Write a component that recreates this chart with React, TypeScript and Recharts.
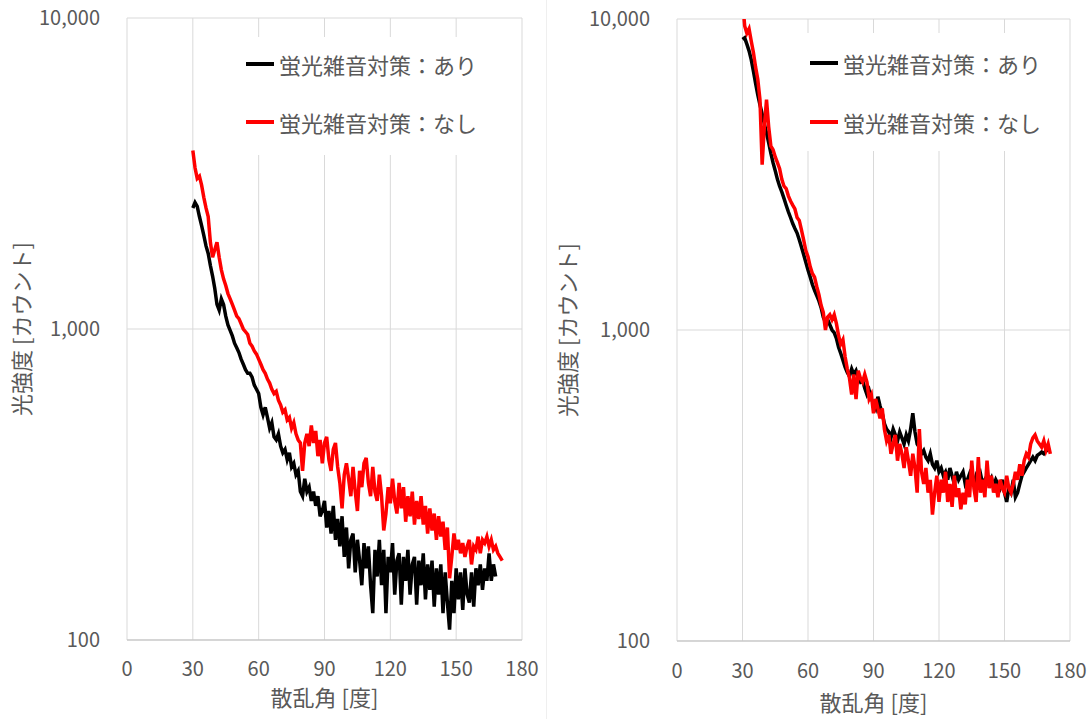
import { LineChart, Line, XAxis, YAxis, CartesianGrid, Legend } from 'recharts';

// scattering angle [deg]
const angles = [
  30, 31, 32, 33, 34, 35, 36, 37, 38, 39,
  40, 41, 42, 43, 44, 45, 46, 47, 48, 49,
  50, 51, 52, 53, 54, 55, 56, 57, 58, 59,
  60, 61, 62, 63, 64, 65, 66, 67, 68, 69,
  70, 71, 72, 73, 74, 75, 76, 77, 78, 79,
  80, 81, 82, 83, 84, 85, 86, 87, 88, 89,
  90, 91, 92, 93, 94, 95, 96, 97, 98, 99,
  100, 101, 102, 103, 104, 105, 106, 107, 108, 109,
  110, 111, 112, 113, 114, 115, 116, 117, 118, 119,
  120, 121, 122, 123, 124, 125, 126, 127, 128, 129,
  130, 131, 132, 133, 134, 135, 136, 137, 138, 139,
  140, 141, 142, 143, 144, 145, 146, 147, 148, 149,
  150, 151, 152, 153, 154, 155, 156, 157, 158, 159,
  160, 161, 162, 163, 164, 165, 166, 167, 168, 169,
  170, 171
];

// left panel, noise countermeasure ON (black)
const leftWith = [
  2450, 2550, 2480, 2300, 2150, 2000, 1850, 1750, 1600, 1480,
  1350, 1200, 1150, 1250, 1200, 1100, 1030, 990, 950, 900,
  870, 840, 800, 770, 740, 720, 720, 700, 660, 640,
  620, 560, 530, 560, 520, 480, 500, 450, 440, 460,
  420, 400, 410, 380, 400, 360, 370, 340, 350, 300,
  290, 330, 300, 310, 280, 300, 270, 290, 250, 260,
  280, 230, 260, 220, 270, 210, 245, 200, 250, 185,
  230, 170, 210, 220, 165, 210, 180, 150, 205, 170,
  200, 150, 122, 195, 160, 210, 150, 195, 122, 185,
  165, 205, 140, 180, 190, 130, 185, 155, 195, 140,
  175, 185, 130, 180, 150, 190, 135, 175, 145, 180,
  128, 170, 140, 175, 122, 165, 132, 108, 155, 122,
  170, 135, 165, 125, 170, 140, 132, 165, 128, 170,
  150, 175, 145, 170, 155, 190, 155, 175, 160, null,
  null, null
];

// left panel, noise countermeasure OFF (red)
const leftWithout = [
  3750, 3300, 3050, 3100, 2900, 2650, 2450, 2300, 1900, 1700,
  1800, 1900, 1700, 1550, 1450, 1380, 1300, 1250, 1200, 1150,
  1100, 1080, 1040, 1000, 980, 960, 900, 880, 850, 830,
  800, 770, 740, 720, 690, 670, 640, 620, 630, 590,
  570, 540, 550, 510, 520, 480, 500, 460, 440, 430,
  350, 430, 460, 420, 490, 430, 470, 390, 440, 370,
  430, 450, 380, 350, 410, 430, 360, 320, 265, 340,
  370, 330, 290, 360, 300, 260, 350, 310, 370, 385,
  320, 290, 360, 300, 280, 340, 290, 225, 255, 310,
  275, 330, 280, 255, 320, 265, 310, 240, 290, 250,
  300, 235, 280, 245, 290, 235, 270, 220, 265, 225,
  255, 210, 250, 215, 240, 195, 230, 158, 185, 220,
  195, 210, 190, 205, 185, 200, 210, 175, 200, 195,
  215, 190, 210, 205, 215, 200, 210, 195, 200, 190,
  185, 180
];

// right panel, noise countermeasure ON (black)
const rightWith = [
  8600, 8700, 8300, 7900, 7400, 6800, 6200, 5700, 5300, 4950,
  4600, 4300, 4000, 3700, 3450, 3250, 3050, 2900, 2780, 2650,
  2520, 2400, 2300, 2200, 2120, 2050, 1950, 1850, 1750, 1650,
  1560, 1480, 1400, 1340, 1290, 1240, 1180, 1100, 1060, 1080,
  1040, 1000, 980, 940, 880, 840, 800, 760, 730, 710,
  750, 720, 740, 700, 680, 690, 650, 620, 640, 600,
  580, 560, 610, 570, 540, 500, 480, 470, 450, 480,
  460, 440, 470, 450, 430, 460, 440, 480, 540, 470,
  430, 420, 400, 410, 390, 380, 400, 370, 360, 380,
  350, 360, 340, 350, 330, 360, 340, 320, 350, 330,
  340, 350, 320, 330, 345, 330, 320, 340, 330, 345,
  320, 330, 340, 325, 335, 315, 330, 320, 310, 330,
  300, 280, 310, 300, 330, 290, 300, 320, 340, 350,
  360, 370, 380, 390, 380, 395, 400, 405, 400, 410,
  410, null
];

// right panel, noise countermeasure OFF (red)
const rightWithout = [
  11500, 9500, 9000, 9300, 8500, 7800, 7000, 6400, 5500, 3400,
  4500, 5500, 4500, 3900, 3800, 3600, 3450, 3300, 3050, 2900,
  2850, 2700, 2600, 2520, 2450, 2300, 2250, 2100, 1950, 1800,
  1720, 1600, 1520, 1480, 1380, 1300, 1200, 1140, 1000, 1100,
  1120, 1080, 1120, 1050, 960, 900, 930, 820, 750, 700,
  620, 720, 600, 740, 700, 680, 720, 680, 600, 620,
  540, 600, 560, 520, 560, 480, 440, 460, 400, 430,
  460, 380, 430, 400, 360, 420, 380, 340, 400, 360,
  300, 480, 350, 320, 360, 300, 330, 255, 300, 340,
  280, 330, 300, 350, 280, 320, 270, 340, 290, 310,
  265, 300, 275, 330, 290, 380, 310, 280, 390, 300,
  330, 290, 380, 310, 340, 300, 320, 290, 330, 310,
  300, 340, 310, 300, 320, 350, 330, 370, 340, 380,
  400, 390, 430, 450, 460, 440, 430, 420, 440, 410,
  430, 400
];

const xTicks = [0, 30, 60, 90, 120, 150, 180];
const yTicks = [100, 1000, 10000];
const seriesNames = ['蛍光雑音対策：あり', '蛍光雑音対策：なし'];
const seriesColors = ['#000000', '#ff0000'];

const FONT = "'Noto Sans CJK JP', 'Noto Sans', sans-serif";
const TEXT = '#595959';
const GRID = '#d9d9d9';

const leftData = angles.map((angle, i) => ({ angle, on: leftWith[i], off: leftWithout[i] }));
const rightData = angles.map((angle, i) => ({ angle, on: rightWith[i], off: rightWithout[i] }));

const LegendBox = ({ firstRow, secondRow }: { firstRow: number; secondRow: number }) => (
  <div style={{ position: 'relative', width: 262, height: 118, background: '#fff', fontFamily: FONT }}>
    {seriesNames.map((name, i) => (
      <div
        key={name}
        style={{
          position: 'absolute',
          left: 10,
          top: i === 0 ? firstRow : secondRow,
          height: 30,
          display: 'flex',
          alignItems: 'center',
          whiteSpace: 'nowrap'
        }}
      >
        <div style={{ width: 28, height: 3.5, background: seriesColors[i] }} />
        <span style={{ marginLeft: 5, fontSize: 22, color: TEXT, lineHeight: '30px' }}>{name}</span>
      </div>
    ))}
  </div>
);

interface PanelProps {
  data: { angle: number; on: number | null; off: number | null }[];
  top: number;
  right: number;
  axisWidth: number;
  axisHeight: number;
  xTickMargin: number;
  xTitleOffset: number;
  legendLeft: number;
  legendTop: number;
  firstRow: number;
  secondRow: number;
}

const Panel = (p: PanelProps) => (
  <LineChart width={546} height={719} data={p.data} margin={{ top: p.top, right: p.right, bottom: 0, left: 0 }}>
    <CartesianGrid stroke={GRID} strokeWidth={1} />
    <XAxis
      dataKey="angle"
      type="number"
      domain={[0, 180]}
      ticks={xTicks}
      interval={0}
      height={p.axisHeight}
      tickLine={false}
      tickSize={0}
      tickMargin={p.xTickMargin}
      axisLine={{ stroke: '#bfbfbf' }}
      tick={{ fill: TEXT, fontSize: 20, fontFamily: FONT }}
      label={{
        value: '散乱角 [度]',
        position: 'insideBottom',
        offset: p.xTitleOffset,
        style: { fill: TEXT, fontSize: 22, fontFamily: FONT }
      }}
    />
    <YAxis
      scale="log"
      domain={[100, 10000]}
      allowDataOverflow
      ticks={yTicks}
      interval={0}
      width={p.axisWidth}
      tickLine={false}
      axisLine={false}
      tickSize={0}
      tickMargin={27}
      tick={{ fill: TEXT, fontSize: 20, fontFamily: FONT }}
      tickFormatter={(v: number) => v.toLocaleString('en-US')}
      label={{
        value: '光強度 [カウント]',
        angle: -90,
        position: 'insideLeft',
        offset: 22,
        style: { fill: TEXT, fontSize: 22, fontFamily: FONT, textAnchor: 'middle' }
      }}
    />
    <Legend
      layout="vertical"
      align="center"
      verticalAlign="middle"
      wrapperStyle={{ top: p.legendTop, left: p.legendLeft, width: 262, height: 118 }}
      content={() => <LegendBox firstRow={p.firstRow} secondRow={p.secondRow} />}
    />
    <Line
      type="linear"
      dataKey="on"
      name={seriesNames[0]}
      stroke={seriesColors[0]}
      strokeWidth={3.5}
      dot={false}
      isAnimationActive={false}
    />
    <Line
      type="linear"
      dataKey="off"
      name={seriesNames[1]}
      stroke={seriesColors[1]}
      strokeWidth={3.5}
      dot={false}
      isAnimationActive={false}
    />
  </LineChart>
);

export default function App() {
  return (
    <div style={{ position: 'absolute', left: 0, top: 0, width: 1092, height: 719, background: '#fff', overflow: 'hidden' }}>
      <div style={{ position: 'absolute', left: 0, top: 0 }}>
        <Panel
          data={leftData}
          top={18}
          right={24}
          axisWidth={127}
          axisHeight={79}
          xTickMargin={22}
          xTitleOffset={13}
          legendLeft={236}
          legendTop={37}
          firstRow={12}
          secondRow={70}
        />
      </div>
      <div style={{ position: 'absolute', left: 546, top: 0, width: 1, height: 719, background: '#efefef' }} />
      <div style={{ position: 'absolute', left: 546, top: 0 }}>
        <Panel
          data={rightData}
          top={19}
          right={22}
          axisWidth={131}
          axisHeight={78}
          xTickMargin={23}
          xTitleOffset={8}
          legendLeft={254}
          legendTop={33}
          firstRow={15}
          secondRow={74}
        />
      </div>
    </div>
  );
}
